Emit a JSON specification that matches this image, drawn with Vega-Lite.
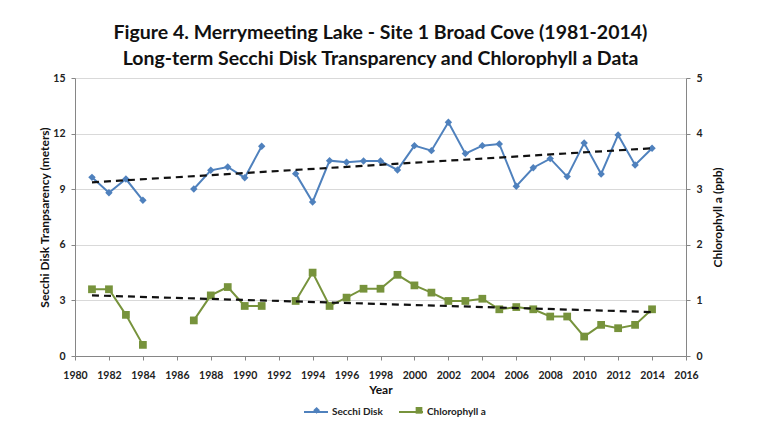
{
  "$schema": "https://vega.github.io/schema/vega-lite/v6.json",
  "width": 611,
  "height": 278,
  "autosize": {"type": "none"},
  "padding": {"left": 75, "top": 78, "right": 73, "bottom": 90},
  "background": "white",
  "config": {
    "font": "Lato",
    "view": {"stroke": null},
    "axis": {
      "labelFont": "Lato", "labelFontWeight": "bold", "labelFontSize": 10.5, "labelColor": "#222222",
      "titleFont": "Lato", "titleFontWeight": "bold", "titleFontSize": 12, "titleColor": "#111111",
      "domainColor": "#868686", "tickColor": "#868686", "tickSize": 4, "gridColor": "#d9d9d9"
    },
    "legend": {"labelFont": "Lato", "labelFontSize": 10, "labelFontWeight": "bold", "labelColor": "#222222"}
  },
  "title": {
    "text": ["Figure 4. Merrymeeting Lake - Site 1 Broad Cove (1981-2014)", "Long-term Secchi Disk Transparency and Chlorophyll a Data"],
    "font": "Lato", "fontSize": 19.5, "fontWeight": "bold", "color": "#111111",
    "lineHeight": 26, "anchor": "middle", "offset": 4
  },
  "datasets": {
    "obs": [
      {"year": 1981, "series": "Secchi Disk", "value": 9.64},
      {"year": 1982, "series": "Secchi Disk", "value": 8.81},
      {"year": 1983, "series": "Secchi Disk", "value": 9.55},
      {"year": 1984, "series": "Secchi Disk", "value": 8.40},
      {"year": 1985, "series": "Secchi Disk", "value": null},
      {"year": 1987, "series": "Secchi Disk", "value": 9.01},
      {"year": 1988, "series": "Secchi Disk", "value": 10.02},
      {"year": 1989, "series": "Secchi Disk", "value": 10.20},
      {"year": 1990, "series": "Secchi Disk", "value": 9.62},
      {"year": 1991, "series": "Secchi Disk", "value": 11.32},
      {"year": 1992, "series": "Secchi Disk", "value": null},
      {"year": 1993, "series": "Secchi Disk", "value": 9.84},
      {"year": 1994, "series": "Secchi Disk", "value": 8.31},
      {"year": 1995, "series": "Secchi Disk", "value": 10.54},
      {"year": 1996, "series": "Secchi Disk", "value": 10.45},
      {"year": 1997, "series": "Secchi Disk", "value": 10.52},
      {"year": 1998, "series": "Secchi Disk", "value": 10.52},
      {"year": 1999, "series": "Secchi Disk", "value": 10.04},
      {"year": 2000, "series": "Secchi Disk", "value": 11.35},
      {"year": 2001, "series": "Secchi Disk", "value": 11.08},
      {"year": 2002, "series": "Secchi Disk", "value": 12.61},
      {"year": 2003, "series": "Secchi Disk", "value": 10.92},
      {"year": 2004, "series": "Secchi Disk", "value": 11.35},
      {"year": 2005, "series": "Secchi Disk", "value": 11.44},
      {"year": 2006, "series": "Secchi Disk", "value": 9.16},
      {"year": 2007, "series": "Secchi Disk", "value": 10.16},
      {"year": 2008, "series": "Secchi Disk", "value": 10.65},
      {"year": 2009, "series": "Secchi Disk", "value": 9.68},
      {"year": 2010, "series": "Secchi Disk", "value": 11.49},
      {"year": 2011, "series": "Secchi Disk", "value": 9.82},
      {"year": 2012, "series": "Secchi Disk", "value": 11.93},
      {"year": 2013, "series": "Secchi Disk", "value": 10.31},
      {"year": 2014, "series": "Secchi Disk", "value": 11.21},
      {"year": 1981, "series": "Chlorophyll a", "value": 1.20},
      {"year": 1982, "series": "Chlorophyll a", "value": 1.20},
      {"year": 1983, "series": "Chlorophyll a", "value": 0.74},
      {"year": 1984, "series": "Chlorophyll a", "value": 0.20},
      {"year": 1985, "series": "Chlorophyll a", "value": null},
      {"year": 1987, "series": "Chlorophyll a", "value": 0.64},
      {"year": 1988, "series": "Chlorophyll a", "value": 1.09},
      {"year": 1989, "series": "Chlorophyll a", "value": 1.24},
      {"year": 1990, "series": "Chlorophyll a", "value": 0.90},
      {"year": 1991, "series": "Chlorophyll a", "value": 0.90},
      {"year": 1992, "series": "Chlorophyll a", "value": null},
      {"year": 1993, "series": "Chlorophyll a", "value": 0.99},
      {"year": 1994, "series": "Chlorophyll a", "value": 1.50},
      {"year": 1995, "series": "Chlorophyll a", "value": 0.90},
      {"year": 1996, "series": "Chlorophyll a", "value": 1.05},
      {"year": 1997, "series": "Chlorophyll a", "value": 1.21},
      {"year": 1998, "series": "Chlorophyll a", "value": 1.21},
      {"year": 1999, "series": "Chlorophyll a", "value": 1.46},
      {"year": 2000, "series": "Chlorophyll a", "value": 1.27},
      {"year": 2001, "series": "Chlorophyll a", "value": 1.14},
      {"year": 2002, "series": "Chlorophyll a", "value": 0.99},
      {"year": 2003, "series": "Chlorophyll a", "value": 0.99},
      {"year": 2004, "series": "Chlorophyll a", "value": 1.03},
      {"year": 2005, "series": "Chlorophyll a", "value": 0.84},
      {"year": 2006, "series": "Chlorophyll a", "value": 0.88},
      {"year": 2007, "series": "Chlorophyll a", "value": 0.84},
      {"year": 2008, "series": "Chlorophyll a", "value": 0.71},
      {"year": 2009, "series": "Chlorophyll a", "value": 0.71},
      {"year": 2010, "series": "Chlorophyll a", "value": 0.35},
      {"year": 2011, "series": "Chlorophyll a", "value": 0.56},
      {"year": 2012, "series": "Chlorophyll a", "value": 0.50},
      {"year": 2013, "series": "Chlorophyll a", "value": 0.56},
      {"year": 2014, "series": "Chlorophyll a", "value": 0.84}
    ],
    "trend": [
      {"year": 1981, "series": "Secchi Disk", "value": 9.37},
      {"year": 2014, "series": "Secchi Disk", "value": 11.21},
      {"year": 1981, "series": "Chlorophyll a", "value": 1.09},
      {"year": 2014, "series": "Chlorophyll a", "value": 0.79}
    ]
  },
  "encoding": {
    "x": {
      "field": "year", "type": "quantitative",
      "scale": {"domain": [1980, 2016], "nice": false, "zero": false},
      "axis": {"title": "Year", "values": [1980,1982,1984,1986,1988,1990,1992,1994,1996,1998,2000,2002,2004,2006,2008,2010,2012,2014,2016], "format": "d", "grid": false, "labelOverlap": false, "labelFlush": false, "labelPadding": 10, "titlePadding": 4}
    }
  },
  "layer": [
    {
      "encoding": {
        "y": {
          "field": "value", "type": "quantitative",
          "scale": {"domain": [0, 15], "nice": false},
          "axis": {"title": "Secchi Disk Tranpsarency (meters)", "values": [0,3,6,9,12,15], "grid": true, "labelPadding": 6, "titlePadding": 1}
        }
      },
      "layer": [
        {
          "data": {"name": "obs"},
          "transform": [{"filter": "datum.series === 'Secchi Disk'"}],
          "mark": {"type": "line", "strokeWidth": 2, "invalid": "break-paths-filter-domains"},
          "encoding": {
            "stroke": {"field": "series", "type": "nominal",
              "scale": {"domain": ["Chlorophyll a", "Secchi Disk"], "range": ["#77933C", "#4F81BD"]},
              "legend": {"title": null, "orient": "none", "direction": "horizontal", "legendX": 228, "legendY": 321,
                "values": ["Secchi Disk", "Chlorophyll a"], "symbolType": "stroke", "symbolSize": 576, "symbolStrokeWidth": 2,
                "labelOffset": 3, "columnPadding": 12}}
          }
        },
        {
          "data": {"name": "obs"},
          "transform": [{"filter": "datum.series === 'Secchi Disk' && datum.value != null"}],
          "mark": {"type": "point", "filled": true, "opacity": 1, "size": 55},
          "encoding": {
            "fill": {"field": "series", "type": "nominal",
              "scale": {"domain": ["Secchi Disk", "Chlorophyll a"], "range": ["#4F81BD", "#77933C"]},
              "legend": {"title": null, "orient": "none", "direction": "horizontal", "legendX": 236.6, "legendY": 327,
                "symbolSize": 45, "labelExpr": "''", "labelOffset": 0, "columnPadding": 88.4}},
            "shape": {"field": "series", "type": "nominal",
              "scale": {"domain": ["Secchi Disk", "Chlorophyll a"], "range": ["diamond", "square"]}}
          }
        },
        {
          "data": {"name": "trend"},
          "transform": [{"filter": "datum.series === 'Secchi Disk'"}],
          "mark": {"type": "line", "color": "#111111", "strokeWidth": 2.2, "strokeDash": [7, 5]},
          "encoding": {}
        }
      ]
    },
    {
      "encoding": {
        "y": {
          "field": "value", "type": "quantitative",
          "scale": {"domain": [0, 5], "nice": false},
          "axis": {"title": "Chlorophyll a (ppb)", "orient": "right", "titleAngle": 270, "titleBaseline": "top", "values": [0,1,2,3,4,5], "grid": false, "labelPadding": 6, "titlePadding": 10}
        }
      },
      "layer": [
        {
          "data": {"name": "obs"},
          "transform": [{"filter": "datum.series === 'Chlorophyll a'"}],
          "mark": {"type": "line", "strokeWidth": 2, "invalid": "break-paths-filter-domains"},
          "encoding": {
            "stroke": {"field": "series", "type": "nominal"}
          }
        },
        {
          "data": {"name": "obs"},
          "transform": [{"filter": "datum.series === 'Chlorophyll a' && datum.value != null"}],
          "mark": {"type": "point", "filled": true, "opacity": 1, "size": 60},
          "encoding": {
            "fill": {"field": "series", "type": "nominal"},
            "shape": {"field": "series", "type": "nominal"}
          }
        },
        {
          "data": {"name": "trend"},
          "transform": [{"filter": "datum.series === 'Chlorophyll a'"}],
          "mark": {"type": "line", "color": "#111111", "strokeWidth": 2.2, "strokeDash": [7, 5]},
          "encoding": {}
        }
      ]
    }
  ],
  "resolve": {"scale": {"y": "independent"}, "axis": {"y": "independent"}}
}
